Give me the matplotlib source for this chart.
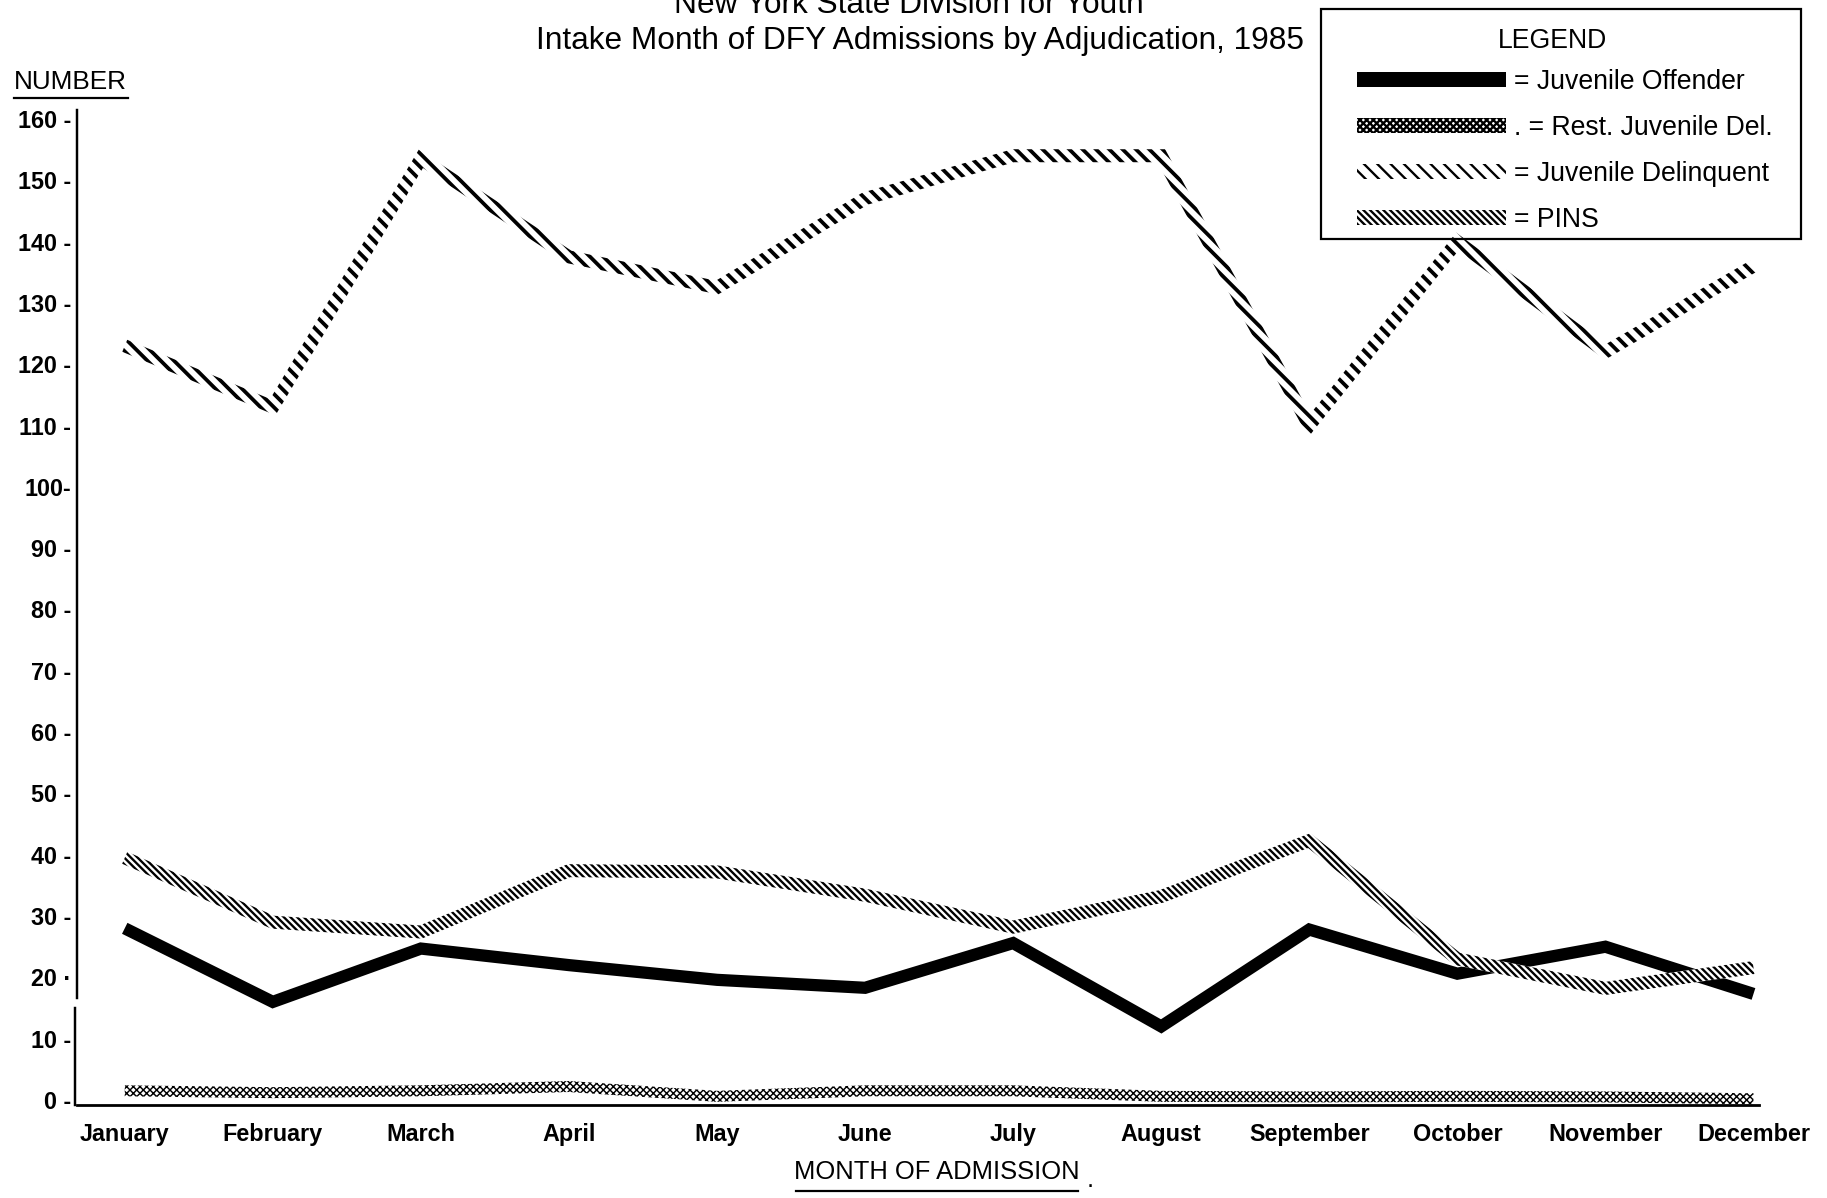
import numpy as np
import matplotlib
matplotlib.use("Agg")
import matplotlib.pyplot as plt
from matplotlib.patches import Polygon, Patch, Rectangle
from matplotlib.lines import Line2D

plt.rcParams['font.family'] = ['Liberation Sans', 'DejaVu Sans']

DPI = 80

months = ['January', 'February', 'March', 'April', 'May', 'June', 'July',
          'August', 'September', 'October', 'November', 'December']
juv_offender = [28, 16, 24.7, 22, 19.6, 18.3, 25.6, 12, 27.8, 20.6, 25, 17.3]
rest_juv_del = [1.5, 1.2, 1.5, 2.2, 0.6, 1.5, 1.5, 0.6, 0.5, 0.6, 0.5, 0.2]
juv_delinquent = [123, 113, 153.5, 137.5, 132.5, 147, 154, 154, 110, 140, 122, 136]
pins = [39.5, 29, 27.4, 37.4, 37.2, 33.4, 28.2, 33.2, 42.3, 23, 18.2, 21.6]

yticks = [0, 10, 20, 30, 40, 50, 60, 70, 80, 90, 100, 110, 120, 130, 140, 150, 160]
ytick_labels = ['0 -', '10 -', '20 ·', '30 -', '40 -', '50 -', '60 -', '70 -', '80 -',
                '90 -', '100-', '110 -', '120 -', '130 -', '140 -', '150 -', '160 -']

# hatch look per series: (pattern, hatch line width)
STYLE_REST = ('xxxx', 1.3)
STYLE_JD = ('\\\\', 3.4)
STYLE_PINS = ('\\\\\\\\', 2.1)


def hatched(hatch, hlw, **kw):
    plt.rcParams['hatch.linewidth'] = hlw
    p = Polygon(kw.pop('xy'), closed=True, hatch=hatch, **kw)
    if hasattr(p, 'set_hatch_linewidth'):
        p.set_hatch_linewidth(hlw)
    return p


def hpatch(hatch, hlw):
    plt.rcParams['hatch.linewidth'] = hlw
    p = Patch(facecolor='white', edgecolor='black', linewidth=0, hatch=hatch)
    if hasattr(p, 'set_hatch_linewidth'):
        p.set_hatch_linewidth(hlw)
    return p


def ribbon(ax, xs, ys, half_px, style, z):
    # thick band around the line, built in pixel space so it has even width
    pts = ax.transData.transform(np.column_stack([xs, ys]))
    d = np.diff(pts, axis=0)
    seg = np.hypot(d[:, 0], d[:, 1])
    n = np.column_stack([-d[:, 1], d[:, 0]]) / seg[:, None]
    off = np.zeros_like(pts)
    off[0] = n[0]
    off[-1] = n[-1]
    for i in range(1, len(pts) - 1):
        m = n[i - 1] + n[i]
        m = m / np.hypot(*m)
        off[i] = m * min(1.0 / np.dot(m, n[i]), 3.0)
    upper = pts + off * half_px
    lower = pts - off * half_px
    poly = ax.transData.inverted().transform(np.vstack([upper, lower[::-1]]))
    p = hatched(style[0], style[1], xy=poly, facecolor='white', edgecolor='black',
                linewidth=0, clip_on=False, zorder=z)
    ax.add_patch(p)
    return p


fig = plt.figure(figsize=(1827 / DPI, 1198 / DPI), dpi=DPI)
ax = fig.add_axes([0.0421, 0.0777, 0.963 - 0.0421, 0.9084 - 0.0777])
x = np.arange(len(months))
ax.set_xlim(-0.323, 11.04)
ax.set_ylim(-0.8, 161.5)

ax.plot(x, juv_offender, color='black', linewidth=11, solid_joinstyle='miter',
        solid_capstyle='butt', zorder=3, clip_on=False)
ribbon(ax, x, rest_juv_del, 5.5, STYLE_REST, 2)
ribbon(ax, x, juv_delinquent, 6.5, STYLE_JD, 4)
ribbon(ax, x, pins, 6.5, STYLE_PINS, 5)

# axes look
for s in ['top', 'right', 'left']:
    ax.spines[s].set_visible(False)
ax.spines['bottom'].set_linewidth(2.5)
yax = ax.get_yaxis_transform()
ax.plot([0, 0], [16.6, 161.5], transform=yax, color='black', lw=2.2, clip_on=False)
ax.plot([-0.001, -0.001], [15.0, -0.8], transform=yax, color='black', lw=2.2, clip_on=False)

ax.set_xticks(x)
ax.set_xticklabels(months, fontsize=21, fontweight='bold')
ax.set_yticks(yticks)
ax.set_yticklabels(ytick_labels, fontsize=21, fontweight='bold')
ax.tick_params(axis='x', length=0, pad=16)
ax.tick_params(axis='y', length=0, pad=5)

# titles and axis captions
fig.text(0.4975, 1 - 5 / 1198, 'New York State Division for Youth', ha='center',
         va='center', fontsize=28.5)
fig.text(0.5035, 1 - 41 / 1198, 'Intake Month of DFY Admissions by Adjudication, 1985',
         ha='center', va='center', fontsize=28.5)
fig.text(14 / 1827, 1 - 82 / 1198, 'NUMBER', ha='left', va='center', fontsize=23.5)
fig.add_artist(Line2D([14 / 1827, 128 / 1827], [1 - 98 / 1198, 1 - 98 / 1198],
                      color='black', lw=2))
fig.text(937 / 1827, 1 - 1172 / 1198, 'MONTH OF ADMISSION', ha='center', va='center',
         fontsize=23)
fig.add_artist(Line2D([796 / 1827, 1078 / 1827], [1 - 1191 / 1198, 1 - 1191 / 1198],
                      color='black', lw=2))
fig.text(1087 / 1827, 1 - 1180 / 1198, '.', ha='left', va='center', fontsize=23)

# legend (own frame and title so the spacing can match the original box)
handles = [
    Patch(facecolor='black', edgecolor='black', linewidth=0),
    hpatch(*STYLE_REST),
    hpatch(*STYLE_JD),
    hpatch(*STYLE_PINS),
]
labels = ['= Juvenile Offender', '. = Rest. Juvenile Del.', '= Juvenile Delinquent', '= PINS']
leg = fig.legend(handles, labels, loc='upper left',
                 bbox_to_anchor=(1357 / 1827, 1 - 69 / 1198),
                 bbox_transform=fig.transFigure, borderaxespad=0, borderpad=0,
                 fontsize=24, frameon=False,
                 handlelength=5.6, handleheight=0.45, handletextpad=0.3,
                 labelspacing=0.75)
fig.text(1552 / 1827, 1 - 41 / 1198, 'LEGEND', ha='center', va='center', fontsize=24)
fig.add_artist(Rectangle((1321 / 1827, 1 - 239 / 1198), (1801 - 1321) / 1827,
                         (239 - 9) / 1198, transform=fig.transFigure, fill=False,
                         edgecolor='black', lw=2))

fig.savefig('out.png', dpi=DPI)
